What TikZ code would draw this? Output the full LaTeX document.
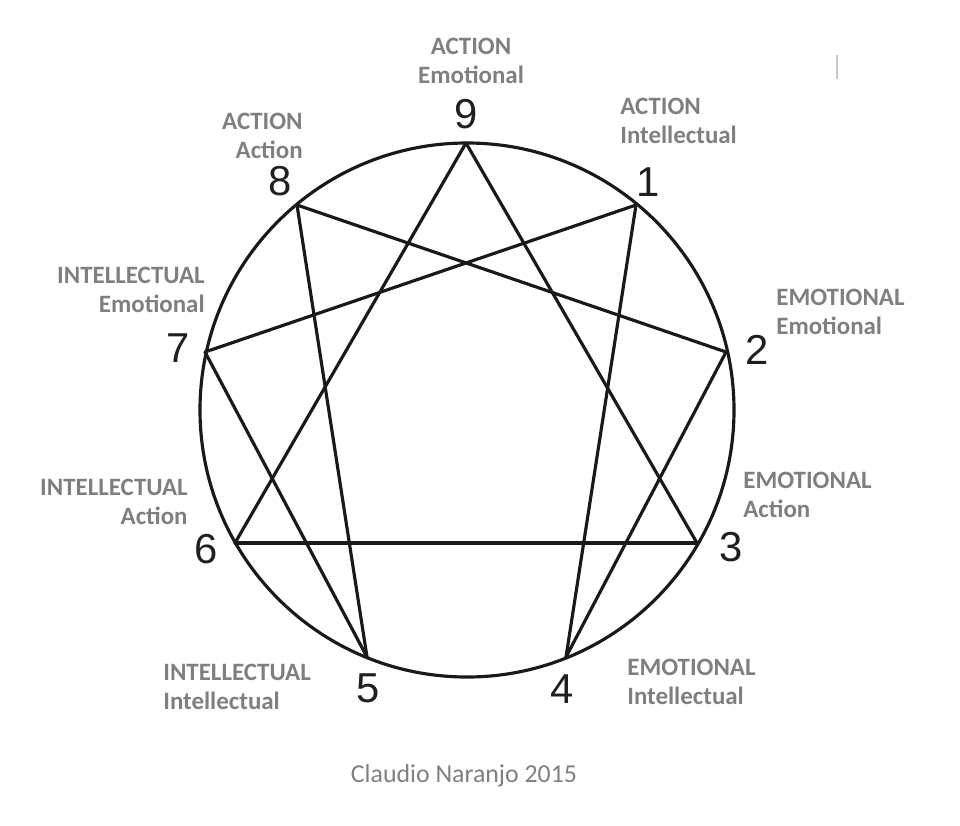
\documentclass[tikz,border=0pt]{standalone}
\usepackage{fontspec}
\setmainfont{Carlito}
\newfontfamily\digitfont{Liberation Sans}
\usetikzlibrary{positioning}
\definecolor{labelgray}{HTML}{7F7F7F}
\definecolor{markgray}{HTML}{C8C8C8}

\begin{document}
\begin{tikzpicture}[x=0.02cm, y=-0.02cm]
% Node styles
\tikzstyle{label} = [inner sep=0pt, text=labelgray, font=\fontsize{14.2pt}{16.4pt}\selectfont\bfseries]
\tikzstyle{digit} = [inner sep=0pt, text=black!88, font=\digitfont\fontsize{23.8pt}{26pt}\selectfont]
\tikzstyle{edge} = [line width=1.8pt, black!90, line cap=round, line join=round]

\useasboundingbox (0,0) rectangle (960,825);

% Circle points
\coordinate (c) at (467,410);
\coordinate (v9) at (466,143);
\coordinate (v1) at (636,205);
\coordinate (v2) at (726,352);
\coordinate (v3) at (697,543);
\coordinate (v4) at (566,657);
\coordinate (v5) at (367,657);
\coordinate (v6) at (235,543);
\coordinate (v7) at (205,352);
\coordinate (v8) at (297,205);

% Circle
\draw [edge] (c) circle (267);

% Triangle
\draw [edge] (v9) -- (v3);
\draw [edge] (v3) -- (v6);
\draw [edge] (v6) -- (v9);

% Hexad
\draw [edge] (v1) -- (v4);
\draw [edge] (v4) -- (v2);
\draw [edge] (v2) -- (v8);
\draw [edge] (v8) -- (v5);
\draw [edge] (v5) -- (v7);
\draw [edge] (v7) -- (v1);

% Numbers
\node [digit] (n9) at (466,114) {9};
\node [digit] (n1) at (648,182) {1};
\node [digit] (n2) at (757,350) {2};
\node [digit] (n3) at (731,547) {3};
\node [digit] (n4) at (562,689) {4};
\node [digit] (n5) at (368,688) {5};
\node [digit] (n6) at (206,549) {6};
\node [digit] (n7) at (178,348) {7};
\node [digit] (n8) at (280,181) {8};

% Labels
\node [label, anchor=north, align=center] (l9) at (471,38) {ACTION\\Emotional};
\node [label, anchor=north west, align=left] (l1) at (620,98) {ACTION\\Intellectual};
\node [label, anchor=north west, align=left] (l2) at (776,289) {EMOTIONAL\\Emotional};
\node [label, anchor=north west, align=left] (l3) at (743,472) {EMOTIONAL\\Action};
\node [label, anchor=north west, align=left] (l4) at (627,659) {EMOTIONAL\\Intellectual};
\node [label, anchor=north west, align=left] (l5) at (163,664) {INTELLECTUAL\\Intellectual};
\node [label, anchor=north east, align=right] (l6) at (188,479) {INTELLECTUAL\\Action};
\node [label, anchor=north east, align=right] (l7) at (205,267) {INTELLECTUAL\\Emotional};
\node [label, anchor=north east, align=right] (l8) at (303,113) {ACTION\\Action};

% Footer
\node [inner sep=0pt, anchor=base, text=labelgray, font=\fontsize{14.7pt}{17pt}\selectfont] (credit) at (464,782) {Claudio Naranjo 2015};

% Mark
\coordinate (m1) at (837,55);
\coordinate (m2) at (837,79);
\draw [markgray, line width=1pt] (m1) -- (m2);
\end{tikzpicture}
\end{document}
